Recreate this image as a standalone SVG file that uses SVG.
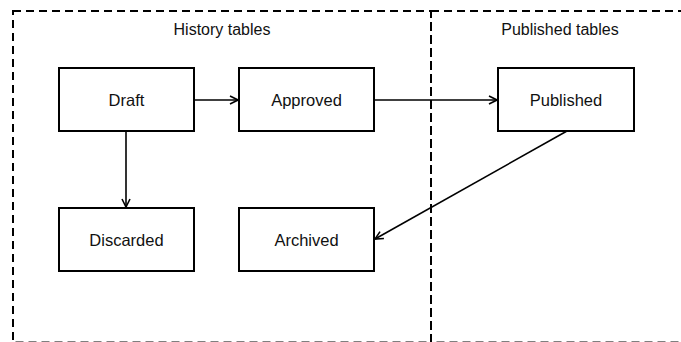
<svg xmlns="http://www.w3.org/2000/svg" width="681" height="342" viewBox="0 0 681 342">
<style>
.region{fill:none;stroke:#000;stroke-width:2;stroke-dasharray:8 5}
.node rect{fill:#fff;stroke:#000;stroke-width:2}
text{font-family:"Liberation Sans",Arial,sans-serif;font-size:16px;fill:#111;text-anchor:middle}
.node text{font-size:16.5px}
.conn line{stroke:#000;stroke-width:1.6;fill:none;marker-end:url(#arr)}
</style>
<defs>
<marker id="arr" viewBox="0 0 10 10" refX="9" refY="5" markerWidth="10" markerHeight="10" markerUnits="userSpaceOnUse" orient="auto">
<path d="M1,1 L9,5 L1,9" fill="none" stroke="#000" stroke-width="1.6"/>
</marker>
</defs>
<rect width="681" height="342" fill="#fff"/>
<g id="history-region">
<rect class="region" x="13" y="11" width="418" height="331.5"/>
<text x="222" y="35">History tables</text>
</g>
<g id="published-region">
<rect class="region" x="431" y="11" width="270" height="331.5"/>
<text x="560" y="35">Published tables</text>
</g>
<g id="draft" class="node"><rect x="59" y="68" width="135" height="63"/><text x="126.5" y="106">Draft</text></g>
<g id="approved" class="node"><rect x="239" y="68" width="135" height="63"/><text x="306.5" y="106">Approved</text></g>
<g id="published" class="node"><rect x="498" y="68" width="136" height="63"/><text x="566" y="106">Published</text></g>
<g id="discarded" class="node"><rect x="59" y="208" width="135" height="63"/><text x="126.5" y="246">Discarded</text></g>
<g id="archived" class="node"><rect x="239" y="208" width="135" height="63"/><text x="306.5" y="246">Archived</text></g>
<g id="connectors" class="conn">
<line x1="194" y1="100" x2="238" y2="100"/>
<line x1="374" y1="100" x2="497" y2="100"/>
<line x1="126" y1="131" x2="126" y2="207"/>
<line x1="567" y1="131" x2="375" y2="239"/>
</g>
</svg>
